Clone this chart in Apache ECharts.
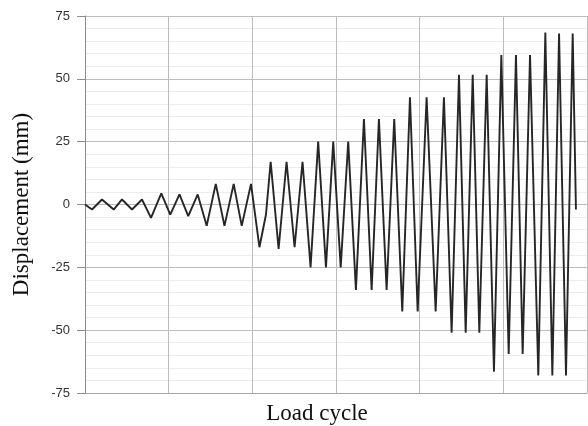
<!DOCTYPE html>
<html>
<head>
<meta charset="utf-8">
<script src="https://cdn.jsdelivr.net/npm/echarts@6/dist/echarts.min.js"></script>
<style>
  html, body { margin: 0; padding: 0; background: #fff; }
  #main { width: 588px; height: 426px; }
</style>
</head>
<body>
<div id="main"></div>
<script>
// load protocol, turning points (x in steps, 0..60)
var steps = [
  0, 0.84, 2.03, 3.43, 4.42, 5.62, 6.81,
  7.89, 9.12, 10.19, 11.29, 12.34, 13.47,
  14.54, 15.63, 16.67, 17.77, 18.73, 19.84,
  20.85, 21.63, 22.19, 23.14, 24.09, 25.05, 26.0,
  26.96, 27.87, 28.8, 29.67, 30.56, 31.46,
  32.38, 33.34, 34.26, 35.13, 36.05, 36.96,
  37.92, 38.84, 39.76, 40.83, 41.91, 42.9,
  43.82, 44.7, 45.5, 46.34, 47.13, 48.01,
  48.88, 49.76, 50.64, 51.51, 52.31, 53.19,
  54.18, 55.02, 55.86, 56.66, 57.49, 58.29, 58.68
];
var displacement = [
  0, -2, 2, -2, 2, -2, 2,
  -5.3, 4.4, -4, 4, -4.6, 4,
  -8.5, 8.2, -8.5, 8.2, -8.5, 8.2,
  -17, -4, 17, -17.7, 17, -17, 17,
  -25, 25, -25, 25, -25, 25,
  -34, 34, -34, 34, -34, 34,
  -42.6, 42.7, -42.6, 42.7, -42.6, 42.7,
  -51, 51.6, -51, 51.6, -51, 51.6,
  -66.5, 59.5, -59.5, 59.5, -59.5, 59.5,
  -68, 68.4, -68, 68, -68, 68, -2
];
var yTicks = [-75, -50, -25, 0, 25, 50, 75];

var Chart = echarts.init(document.getElementById('main'));

var points = steps.map(function (s, i) { return [s, displacement[i]]; });

var option = {
  animation: false,
  grid: {
    left: 85,
    top: 16,
    right: 1,
    bottom: 33,
    containLabel: false,
    outerBoundsMode: 'none'
  },
  xAxis: {
    type: 'value',
    min: 0,
    max: 60,
    interval: 10,
    name: 'Load cycle',
    nameLocation: 'middle',
    nameGap: 9,
    nameTextStyle: {
      fontFamily: 'Liberation Serif',
      fontSize: 23,
      color: '#111',
      padding: [0, 38, 0, 0]
    },
    axisLine: { show: true, onZero: false, lineStyle: { color: '#a6a6a6', width: 1 } },
    axisTick: { show: false },
    axisLabel: { show: false },
    splitLine: { show: true, lineStyle: { color: '#bdbdbd', width: 1 } }
  },
  yAxis: {
    type: 'value',
    min: yTicks[0],
    max: yTicks[yTicks.length - 1],
    interval: 25,
    name: 'Displacement (mm)',
    nameLocation: 'middle',
    nameGap: 52,
    nameTextStyle: {
      fontFamily: 'Liberation Serif',
      fontSize: 23,
      color: '#111'
    },
    axisLine: { show: true, lineStyle: { color: '#8c8c8c', width: 1 } },
    axisTick: { show: true, inside: false, length: 8, lineStyle: { color: '#8c8c8c' } },
    axisLabel: {
      margin: 15,
      fontFamily: 'Liberation Sans',
      fontSize: 13,
      color: '#333'
    },
    splitLine: { show: true, lineStyle: { color: '#bdbdbd', width: 1 } },
    minorTick: { show: false, splitNumber: 5 },
    minorSplitLine: { show: true, lineStyle: { color: '#ececec', width: 1 } }
  },
  series: [
    {
      type: 'line',
      data: points,
      showSymbol: false,
      smooth: false,
      lineStyle: { color: '#262626', width: 1.9 }
    }
  ]
};

Chart.setOption(option);
</script>
</body>
</html>
